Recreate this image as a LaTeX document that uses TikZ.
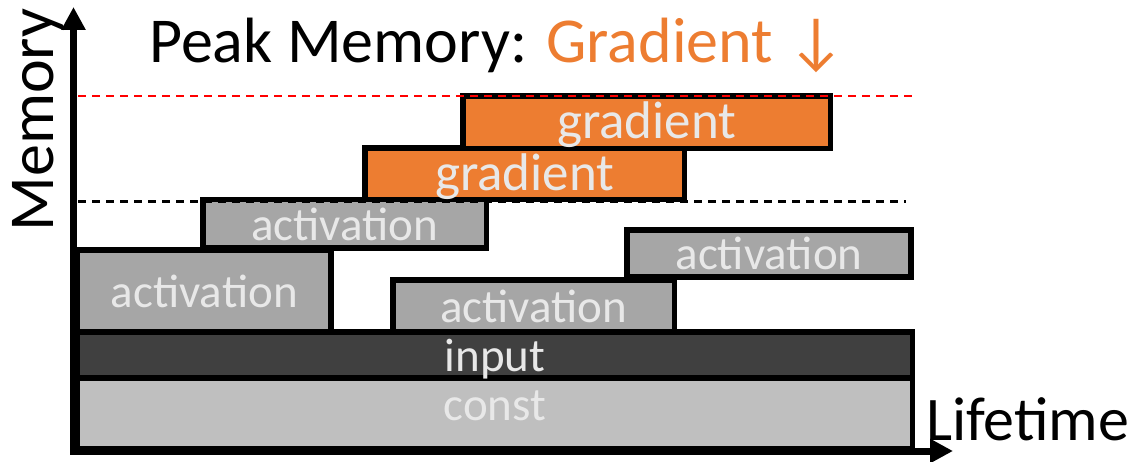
\documentclass[tikz,border=0pt]{standalone}
\usepackage{fontspec}
\setmainfont{Carlito}
\usetikzlibrary{arrows.meta}

\definecolor{gradorange}{RGB}{237,125,49}
\definecolor{actgray}{RGB}{166,166,166}
\definecolor{inputgray}{RGB}{64,64,64}
\definecolor{constgray}{RGB}{191,191,191}
\definecolor{labelgray}{RGB}{232,232,232}

\tikzset{
  block/.style={draw=black, line width=5.5pt, inner sep=0pt, text=labelgray,
    font=\fontsize{47}{50}\selectfont, text height=33pt, text depth=0pt},
  gradblock/.style={block, fill=gradorange, font=\fontsize{53}{56}\selectfont},
  actblock/.style={block, fill=actgray},
  axis/.style={line width=7pt, line join=miter,
    {Triangle[length=23pt,width=23pt]}-{Triangle[length=23pt,width=23pt]}},
  limit/.style={line width=2.2pt, dash pattern=on 8pt off 6pt},
}

\begin{document}
\begin{tikzpicture}[x=1pt, y=-1pt]
    \useasboundingbox (0,0) rectangle (1130,462);

    % lifetimes of the buffers (centre, then size)
    \node[block, fill=constgray, text depth=19pt, minimum width=835pt, minimum height=71pt]
        (const) at (495,413.5) {const};
    \node[block, fill=inputgray, minimum width=835pt, minimum height=46pt]
        (input) at (495,355) {input};
    \node[actblock, minimum width=253.5pt, minimum height=82pt] (act1) at (204.25,291) {activation};
    \node[actblock, minimum width=281.5pt, minimum height=52pt] (act3) at (533.75,306) {activation};
    \node[actblock, minimum width=284pt, minimum height=47pt] (act4) at (769,253.5) {activation};
    \node[actblock, minimum width=283.5pt, minimum height=48.5pt] (act2) at (344.75,223.75) {activation};
    \node[gradblock, minimum width=319.5pt, minimum height=51.5pt] (grad1) at (524.75,173.75) {gradient};
    \node[gradblock, minimum width=367.5pt, minimum height=52.5pt] (grad2) at (646.75,122.25) {gradient};

    % peak levels
    \coordinate (oldpeak) at (78,201.5);
    \coordinate (newpeak) at (78,96);
    \draw[limit, black] (oldpeak) -- (906,201.5);
    \draw[limit, red] (newpeak) -- (912,96);

    % axes
    \coordinate (ytip) at (73.5,7);
    \coordinate (xtip) at (953,451);
    \draw[axis] (ytip) |- (xtip);

    \node[inner sep=0pt, anchor=base west, font=\fontsize{64}{69}\selectfont] (title)
        at (149,63) {Peak Memory: \textcolor{gradorange}{Gradient ↓}};
    \node[inner sep=0pt, anchor=base, rotate=90, font=\fontsize{64}{68}\selectfont] (ylabel)
        at (53,120) {Memory};
    \node[inner sep=0pt, anchor=base west, font=\fontsize{62}{66}\selectfont] (xlabel)
        at (926,440) {Lifetime};
\end{tikzpicture}
\end{document}
